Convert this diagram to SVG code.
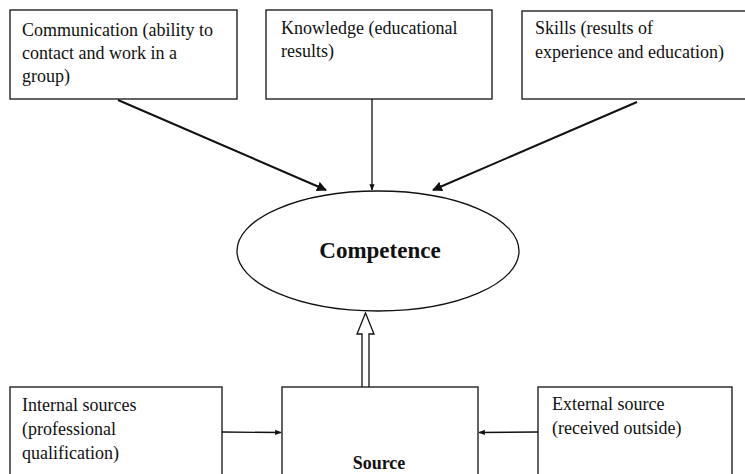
<svg xmlns="http://www.w3.org/2000/svg" width="745" height="474" viewBox="0 0 745 474">
<style>
.box{fill:#fff;stroke:#111;stroke-width:1.3}
.t{font-family:"Liberation Serif","Times New Roman",serif;font-size:18px;fill:#111}
.b{font-family:"Liberation Serif","Times New Roman",serif;font-weight:bold;fill:#111}
.ln{stroke:#111;stroke-width:2;fill:none}
.thin{stroke:#111;stroke-width:1.3;fill:none}
</style>
<defs>
<marker id="ah" viewBox="0 0 10 10" refX="9" refY="5" markerWidth="5" markerHeight="5" orient="auto" markerUnits="strokeWidth"><path d="M0,0 L10,5 L0,10 z" fill="#111"/></marker>
<marker id="sm" viewBox="0 0 10 10" refX="9" refY="5" markerWidth="5" markerHeight="5" orient="auto" markerUnits="strokeWidth"><path d="M0,1 L10,5 L0,9 z" fill="#111"/></marker>
</defs>
<rect width="745" height="474" fill="#fff"/>
<g id="connectors">
<line class="ln" x1="118" y1="100" x2="326" y2="190" marker-end="url(#ah)"/>
<line class="thin" x1="372" y1="99" x2="372" y2="190" marker-end="url(#sm)"/>
<line class="ln" x1="637" y1="102" x2="433" y2="190" marker-end="url(#ah)"/>
<path d="M362,387 L362,334 L357,334 L365.5,313 L374,334 L369,334 L369,387" fill="#fff" stroke="#111" stroke-width="1.3"/>
<line class="thin" x1="222" y1="432" x2="281" y2="432.5" marker-end="url(#sm)"/>
<line class="thin" x1="538" y1="432" x2="479" y2="432.5" marker-end="url(#sm)"/>
</g>
<g id="communication">
<rect class="box" x="10" y="10" width="227" height="89"/>
<text class="t" x="22" y="36">Communication (ability to</text>
<text class="t" x="22" y="59">contact and work in a</text>
<text class="t" x="22" y="82">group)</text>
</g>
<g id="knowledge">
<rect class="box" x="266" y="10" width="226" height="89"/>
<text class="t" x="281" y="34">Knowledge (educational</text>
<text class="t" x="281" y="57">results)</text>
</g>
<g id="skills">
<rect class="box" x="522" y="11" width="240" height="88"/>
<text class="t" x="535" y="34">Skills (results of</text>
<text class="t" x="535" y="58">experience and education)</text>
</g>
<g id="competence">
<ellipse cx="378" cy="251" rx="141" ry="60" fill="#fff" stroke="#111" stroke-width="1.3"/>
<text class="b" x="380" y="258" font-size="23" text-anchor="middle">Competence</text>
</g>
<g id="internal">
<rect class="box" x="10" y="387" width="212" height="100"/>
<text class="t" x="22" y="411">Internal sources</text>
<text class="t" x="22" y="435">(professional</text>
<text class="t" x="22" y="459">qualification)</text>
</g>
<g id="source">
<rect class="box" x="282" y="387" width="196" height="100"/>
<text class="b" x="379" y="469" font-size="18" text-anchor="middle">Source</text>
</g>
<g id="external">
<rect class="box" x="538" y="387" width="194" height="100"/>
<text class="t" x="552" y="410">External source</text>
<text class="t" x="552" y="434">(received outside)</text>
</g>
</svg>
